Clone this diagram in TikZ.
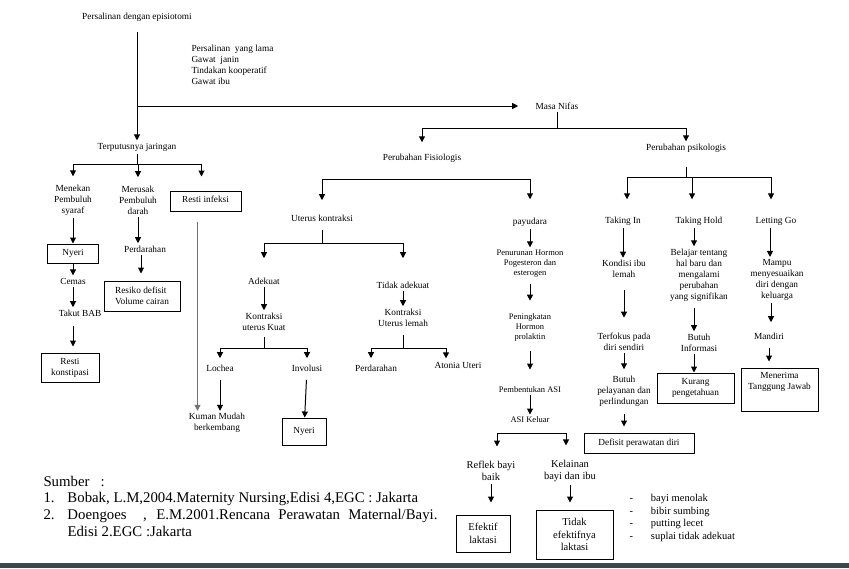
\documentclass[tikz,border=0pt]{standalone}
\usepackage{fontspec}
\setmainfont{Liberation Serif}
\usetikzlibrary{arrows.meta}
\definecolor{pagebar}{RGB}{58,72,78}

\begin{document}
\begin{tikzpicture}[x=1pt,y=-1pt,line width=1pt,
		every node/.style={align=center,inner sep=2pt,font=\fontsize{9.3}{11}\selectfont},
		arr/.style={-{Triangle[length=6pt,width=6pt]}},
		box/.style={draw,line width=1pt},
		small/.style={font=\fontsize{8.5}{10}\selectfont},
		big/.style={font=\fontsize{10.5}{12.5}\selectfont}]
			\useasboundingbox (0,0) rectangle (849,568);
			\fill[pagebar] (0,563) rectangle (849,568);
			% episiotomi
			\node (pe) at (137,17) {Persalinan dengan episiotomi};
			\node[anchor=west,align=left] (ind) at (189,64.5) {Persalinan\ \ yang lama\\Gawat\ \ janin\\Tindakan kooperatif\\Gawat ibu};
			\node (tj) at (137,147) {Terputusnya jaringan};
			\node (mn) at (557,106) {Masa Nifas};
			\node (mp) at (73,200) {Menekan\\Pembuluh\\syaraf};
			\node (mr) at (138,200) {Merusak\\Pembuluh\\darah};
			\node[box,minimum width=71,minimum height=20,text depth=4pt] (ri) at (205.5,201) {Resti infeksi};
			\node[box,minimum width=51,minimum height=19] (ny1) at (73,253.5) {Nyeri};
			\node (cm) at (73,281) {Cemas};
			\node (tb) at (80,313) {Takut BAB};
			\node[box,minimum width=58,minimum height=29] (rk) at (70,367.5) {Resti\\konstipasi};
			\node (pd) at (145,249) {Perdarahan};
			\node[box,minimum width=76,minimum height=30,align=left] (rd) at (142,296) {Resiko defisit\\Volume cairan};
			\node (kmb) at (217,423) {Kuman Mudah\\berkembang};
			% fisiologis
			\node (pf) at (422,158) {Perubahan Fisiologis};
			\node (uk) at (322,218) {Uterus kontraksi};
			\node (ad) at (264,281) {Adekuat};
			\node (ta) at (403,285) {Tidak adekuat};
			\node (kk) at (264,321.5) {Kontraksi\\uterus Kuat};
			\node (kl) at (403,317.5) {Kontraksi\\Uterus lemah};
			\node (lo) at (220,368) {Lochea};
			\node (inv) at (307,368) {Involusi};
			\node[box,minimum width=44,minimum height=27] (ny2) at (304,431.5) {Nyeri};
			\node (pd2) at (376,368) {Perdarahan};
			\node (au) at (458,365) {Atonia Uteri};
			\node (py) at (530,222) {payudara};
			\node[small] (ph) at (530,263.5) {Penurunan Hormon\\Pogesteron dan\\esterogen};
			\node[small] (pk) at (530,327) {Peningkatan\\Hormon\\prolaktin};
			\node[small] (pa) at (530,390) {Pembentukan ASI};
			\node[small] (ak) at (530,420) {ASI Keluar};
			\node[big] (rb) at (491,471) {Reflek bayi\\baik};
			\node[big] (kb) at (570,471) {Kelainan\\bayi dan ibu};
			\node[box,big,minimum width=54,minimum height=37] (el) at (483,533.5) {Efektif\\laktasi};
			\node[box,big,minimum width=77,minimum height=49] (tel) at (574.5,534.5) {Tidak\\efektifnya\\laktasi};
			\node[big,anchor=west] (gj) at (627,518) {\begin{tabular}{@{}l@{\hspace{18pt}}l@{}}-&bayi menolak\\-&bibir sumbing\\-&putting lecet\\-&suplai tidak adekuat\end{tabular}};
			% psikologis
			\node (pp) at (686,148) {Perubahan psikologis};
			\node (ti) at (623,221) {Taking In};
			\node (th) at (699,221) {Taking Hold};
			\node (lg) at (776,221) {Letting Go};
			\node (kil) at (624,269) {Kondisi ibu\\lemah};
			\node (tpd) at (624,342) {Terfokus pada\\diri sendiri};
			\node (bpp) at (624,391) {Butuh\\pelayanan dan\\perlindungan};
			\node[box,minimum width=110,minimum height=20] (dpd) at (639,443) {Defisit perawatan diri};
			\node (bt) at (699,275) {Belajar tentang\\hal baru dan\\mengalami\\perubahan\\yang signifikan};
			\node (bi) at (699,342.5) {Butuh\\Informasi};
			\node[box,minimum width=77,minimum height=30] (kp) at (695.5,388) {Kurang\\pengetahuan};
			\node (mm) at (777,280) {Mampu\\menyesuaikan\\diri dengan\\keluarga};
			\node (md) at (769,336) {Mandiri};
			\node[box,minimum width=77,minimum height=43,text depth=18pt] (mtj) at (779.5,389.5) {Menerima\\Tanggung Jawab};
			% sumber
			\node[anchor=north west,inner sep=0pt,font=\fontsize{14.8}{16.7}\selectfont] (smb) at (43,474) {\begin{tabular}{@{}p{24pt}@{}p{370pt}@{}}
				\multicolumn{2}{@{}l@{}}{Sumber\ \ \ :}\\
				1. & Bobak, L.M,2004.Maternity Nursing,Edisi 4,EGC : Jakarta\\
				2. & Doengoes\ \ , E.M.2001.Rencana Perawatan Maternal/Bayi.\linebreak Edisi 2.EGC :Jakarta
			\end{tabular}};
			% panah kiri
			\draw[arr,shorten <=8pt] (pe) -- (tj);
			\draw[arr,shorten >=15pt] (pe.south |- mn) -- (mn);
			\coordinate (tjbar) at (137,164);
			\draw (tj) -- (tjbar);
			\draw[arr] (tjbar) -| ([yshift=6pt]mp.north);
			\draw[arr] (tjbar) -| ([yshift=6pt]mr.north);
			\draw[arr] (tjbar) -| ([xshift=-4pt,yshift=14pt]ri.north);
			\draw[arr] (mp) -- (ny1);
			\draw[arr] (ny1) -- (cm);
			\draw[arr] (cm.south) -- (cm.south |- tb.north);
			\draw[arr,shorten <=7pt,shorten >=6pt] (cm.south |- tb.south) -- (cm.south |- rk.north);
			\draw[arr] (mr.south) -- (mr.south |- pd.north);
			\draw[arr,shorten >=7pt] ([xshift=3pt]mr.south |- pd.south) -- ([xshift=3pt]mr.south |- rd.north);
			\draw[arr,black!55,shorten <=10pt] ([xshift=-8pt]ri.south) -- ([xshift=-8pt]ri.south |- kmb.north);
			% panah fisiologis
			\coordinate (nfbar) at (557,128);
			\draw (mn) -- (nfbar);
			\draw[arr] (nfbar) -| ([yshift=9pt]pf.north);
			\draw[arr] (nfbar) -| (pp.north);
			\coordinate (fsbar) at (424,179);
			\draw[arr] (fsbar) -| ([yshift=12pt]uk.north);
			\draw[arr] (fsbar) -| ([yshift=16pt]py.north);
			\coordinate (ukbar) at (322,243);
			\draw[shorten <=6pt] (uk) -- (ukbar);
			\draw[arr] (ukbar) -| ([yshift=17pt]ad.north);
			\draw[arr] (ukbar) -| ([yshift=21pt]ta.north);
			\draw[arr] (ad) -- (kk);
			\coordinate (kkbar) at (264,348);
			\draw[shorten <=4pt] (kk) -- (kkbar);
			\draw[arr] (kkbar) -| ([yshift=4pt]lo.north);
			\draw[arr] (kkbar) -| ([yshift=4pt]inv.north);
			\draw[arr,shorten <=6pt] (lo.south) -- (lo.south |- kmb.north);
			\draw[arr,shorten <=6pt] (inv) -- (ny2);
			\draw[arr] (ta) -- (kl);
			\coordinate (klbar) at (403,348);
			\draw[shorten <=6pt] (kl) -- (klbar);
			\draw[arr] (klbar) -| ([xshift=-5pt,yshift=4pt]pd2.north);
			\draw[arr] (klbar) -| ([xshift=-12pt,yshift=1pt]au.north);
			\draw[arr] (py) -- (ph);
			\draw[arr,shorten <=4pt,shorten >=10pt] (ph) -- (pk);
			\draw[arr,shorten <=8pt,shorten >=15pt] (pk) -- (pa);
			\draw[arr] (pa) -- (ak);
			\coordinate (asibar) at (530,433);
			\draw[arr] (asibar) -| ([xshift=6pt,yshift=12pt]rb.north);
			\draw[arr] (asibar) -| ([xshift=-4pt,yshift=12pt]kb.north);
			\draw[arr,shorten >=12pt] (rb.south) -- (rb.south |- el.north);
			\draw[arr,shorten >=7pt] (kb) -- (kb |- tel.north);
			% panah psikologis
			\coordinate (psbar) at (686,177);
			\draw[shorten <=12pt] (pp) -- (psbar);
			\draw[arr] (psbar) -| ([xshift=4pt,yshift=15pt]ti.north);
			\draw[arr] (psbar) -| ([xshift=-7pt,yshift=15pt]th.north);
			\draw[arr] (psbar) -| ([xshift=-5pt,yshift=15pt]lg.north);
			\draw[arr] (ti.south) -- (ti.south |- kil.north);
			\draw[arr,shorten <=10pt,shorten >=13pt] (kil) -- (tpd);
			\draw[arr,shorten >=4pt] (tpd) -- (bpp);
			\draw[arr,shorten <=5pt,shorten >=6pt] (bpp.south) -- (bpp.south |- dpd.north);
			\draw[arr] ([xshift=-5pt]th.south) -- ([xshift=-5pt]th.south |- bt.north);
			\draw[arr,shorten <=4pt] ([xshift=-5pt]bt.south) -- ([xshift=-5pt]bt.south |- bi.north);
			\draw[arr] ([xshift=-5pt]bi.south) -- ([xshift=-5pt]bi.south |- kp.north);
			\draw[arr] ([xshift=-6pt]lg.south) -- ([xshift=-6pt]lg.south |- mm.north);
			\draw[arr,shorten >=8pt] ([xshift=-6pt]mm.south) -- ([xshift=-6pt]mm.south |- md.north);
			\draw[arr,shorten <=6pt,shorten >=6pt] (md.south) -- (md.south |- mtj.north);
		\end{tikzpicture}
\end{document}
